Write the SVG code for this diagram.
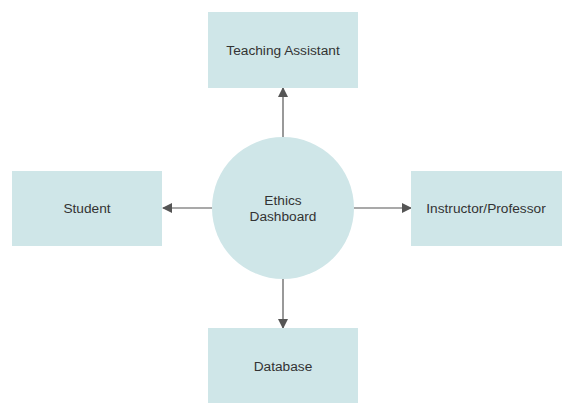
<svg xmlns="http://www.w3.org/2000/svg" width="574" height="417" viewBox="0 0 574 417">
<style>
.box{fill:#cfe6e8;stroke:none}
.lbl{font-family:"Liberation Sans",Arial,sans-serif;font-size:13.7px;fill:#333;text-anchor:middle;dominant-baseline:central}
.edge{stroke:#555;stroke-width:1.2;fill:none;marker-end:url(#arr)}
</style>
<defs>
<marker id="arr" markerWidth="10" markerHeight="10" refX="9" refY="5" orient="auto" markerUnits="userSpaceOnUse">
<path d="M0,0 L10,5 L0,10 Z" fill="#555"/>
</marker>
</defs>
<rect width="574" height="417" fill="#fff"/>
<g id="connectors">
<line class="edge" x1="283" y1="137" x2="283" y2="88"/>
<line class="edge" x1="212" y1="208" x2="163" y2="208"/>
<line class="edge" x1="354" y1="208" x2="411" y2="208"/>
<line class="edge" x1="283" y1="279" x2="283" y2="328"/>
</g>
<g id="ta"><rect class="box" x="208" y="12" width="150" height="76"/><text class="lbl" x="283" y="50">Teaching Assistant</text></g>
<g id="student"><rect class="box" x="12" y="171" width="150" height="75"/><text class="lbl" x="87" y="208">Student</text></g>
<g id="instructor"><rect class="box" x="411" y="171" width="151" height="75"/><text class="lbl" x="486" y="208">Instructor/Professor</text></g>
<g id="database"><rect class="box" x="208" y="328" width="150" height="75"/><text class="lbl" x="283" y="366">Database</text></g>
<g id="dashboard"><circle class="box" cx="283" cy="208" r="71"/><text class="lbl" x="283" y="200">Ethics</text><text class="lbl" x="283" y="216">Dashboard</text></g>
</svg>
